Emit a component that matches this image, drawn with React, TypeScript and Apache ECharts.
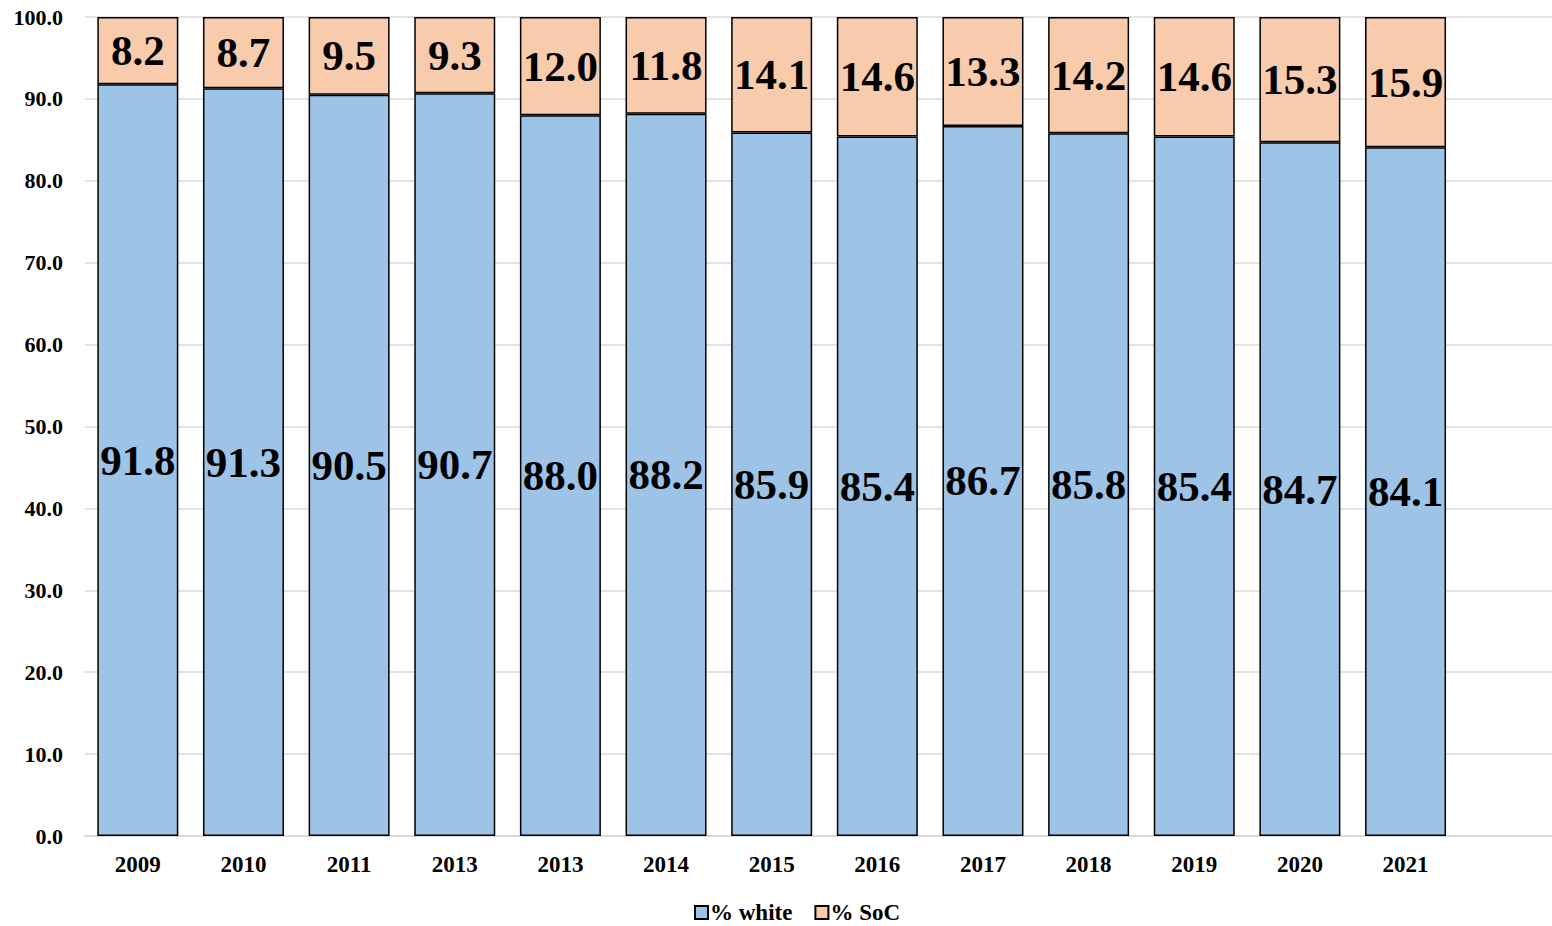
import React, { useEffect, useRef } from "react";
import * as echarts from "echarts";

const categories = ["2009", "2010", "2011", "2013", "2013", "2014", "2015", "2016", "2017", "2018", "2019", "2020", "2021", ""];
const whiteValues = [91.8, 91.3, 90.5, 90.7, 88.0, 88.2, 85.9, 85.4, 86.7, 85.8, 85.4, 84.7, 84.1, null];
const socValues = [8.2, 8.7, 9.5, 9.3, 12.0, 11.8, 14.1, 14.6, 13.3, 14.2, 14.6, 15.3, 15.9, null];
const seriesNames = ["% white", "% SoC"];

const FONT = "'Liberation Serif', 'Times New Roman', serif";

export default function App() {
  const ref = useRef<HTMLDivElement>(null);
  useEffect(() => {
    if (!ref.current) return;
    const chart = echarts.init(ref.current, undefined, { renderer: "svg" });
    const labelCfg = {
      show: true,
      position: "inside",
      fontFamily: FONT,
      fontWeight: "bold",
      fontSize: 43,
      color: "#000",
      formatter: (p: any) => (p.value == null ? "" : Number(p.value).toFixed(1)),
    };
    chart.setOption({
      animation: false,
      backgroundColor: "#fff",
      textStyle: { fontFamily: FONT },
      grid: { left: 85, right: 0, top: 17, bottom: 90, containLabel: false },
      legend: {
        top: 896,
        left: 689,
        itemWidth: 13,
        itemHeight: 13,
        itemGap: 22,
        icon: "rect",
        textStyle: { fontFamily: FONT, fontWeight: "bold", fontSize: 23, color: "#000", padding: [0, 0, 0, -3] },
        data: seriesNames,
      },
      xAxis: {
        type: "category",
        data: categories,
        axisLine: { show: true, lineStyle: { color: "#d9d9d9", width: 2 } },
        axisTick: { show: false },
        axisLabel: { fontFamily: FONT, fontWeight: "bold", fontSize: 23, color: "#000", margin: 17 },
      },
      yAxis: {
        type: "value",
        min: 0,
        max: 100,
        interval: 10,
        axisLine: { show: false },
        axisTick: { show: false },
        splitLine: { lineStyle: { color: "#d9d9d9", width: 1.5 } },
        axisLabel: {
          fontFamily: FONT,
          fontWeight: "bold",
          fontSize: 22,
          color: "#000",
          margin: 22,
          formatter: (v: number) => v.toFixed(1),
        },
      },
      series: [
        {
          name: seriesNames[0],
          type: "bar",
          stack: "total",
          data: whiteValues,
          barWidth: 81,
          itemStyle: { color: "#9dc3e6", borderColor: "#000", borderWidth: 1.5 },
          label: labelCfg,
        },
        {
          name: seriesNames[1],
          type: "bar",
          stack: "total",
          data: socValues,
          barWidth: 81,
          itemStyle: { color: "#f8cbad", borderColor: "#000", borderWidth: 1.5 },
          label: labelCfg,
        },
      ],
    });
    return () => chart.dispose();
  }, []);
  return (
    <div style={{ position: "fixed", left: 0, top: 0, width: 1552, height: 926, overflow: "hidden", background: "#fff" }}>
      <div ref={ref} style={{ width: 1564, height: 926 }} />
    </div>
  );
}
